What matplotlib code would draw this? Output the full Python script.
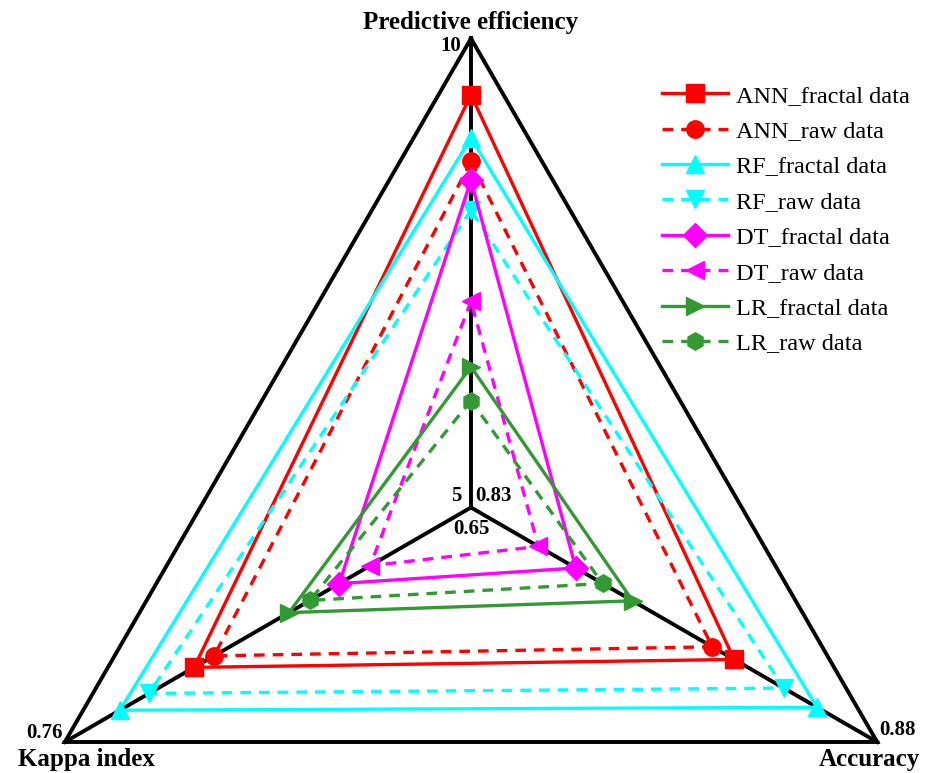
import numpy as np
import matplotlib.pyplot as plt

# axes of the triangle radar: top, bottom-left, bottom-right
axis_names = ['Predictive efficiency', 'Kappa index', 'Accuracy']
axis_min = [5, 0.65, 0.83]
axis_max = [10, 0.76, 0.88]

series = ['ANN_fractal data', 'ANN_raw data', 'RF_fractal data', 'RF_raw data',
          'DT_fractal data', 'DT_raw data', 'LR_fractal data', 'LR_raw data']

predictive = [9.40, 8.69, 8.94, 8.17, 8.49, 7.20, 6.50, 6.14]
kappa = [0.7250, 0.7196, 0.7451, 0.7372, 0.6857, 0.6773, 0.6993, 0.6936]
accuracy = [0.8624, 0.8597, 0.8726, 0.8685, 0.8429, 0.8383, 0.8499, 0.8462]

colors = ['#ff0000', '#ff0000', '#00ffff', '#00ffff',
          '#ff00ff', '#ff00ff', '#339933', '#339933']
markers = ['s', 'o', '^', 'v', 'D', '<', '>', 'h']
styles = ['-', '--', '-', '--', '-', '--', '-', '--']

plt.rcParams['font.family'] = ['Liberation Serif', 'DejaVu Serif']

angles = np.deg2rad([90, 210, 330])


def to_xy(vals):
    frac = [(v - lo) / (hi - lo) for v, lo, hi in zip(vals, axis_min, axis_max)]
    x = np.array(frac) * np.cos(angles)
    y = np.array(frac) * np.sin(angles)
    return x, y


fig = plt.figure(figsize=(9.26, 7.73), dpi=100)
ax = fig.add_axes([0, 0, 1, 1])
ax.set_xlim(-471 / 469, (926 - 471) / 469)
ax.set_ylim(-265.5 / 469, (773 - 265.5) / 469)
ax.axis('off')

# frame and axis lines
vx, vy = np.cos(angles), np.sin(angles)
ax.plot(np.append(vx, vx[0]), np.append(vy, vy[0]), color='black', lw=2.8,
        solid_joinstyle='miter', zorder=1)
for a in angles:
    ax.plot([0, np.cos(a)], [0, np.sin(a)], color='black', lw=2.8, zorder=1)

for i, name in enumerate(series):
    x, y = to_xy([predictive[i], kappa[i], accuracy[i]])
    ax.plot(np.append(x, x[0]), np.append(y, y[0]), color=colors[i],
            linestyle=styles[i], lw=2.4, marker=markers[i], markersize=12.5,
            markevery=[0, 1, 2], label=name, zorder=3,
            dashes=(3.2, 2.4) if styles[i] == '--' else (None, None))

# axis titles
ax.text(0, 1.035, axis_names[0], ha='center', va='center', fontsize=18, fontweight='bold')
ax.text(-0.821, -0.538, axis_names[1], ha='center', va='center', fontsize=18,
        fontweight='bold')
ax.text(0.849, -0.538, axis_names[2], ha='center', va='center', fontsize=18,
        fontweight='bold')

# axis end labels
tk = dict(fontsize=15, fontweight='bold')
ax.text(-0.02, 0.985, '10', ha='right', va='center', **tk)
ax.text(-0.02, 0.025, '5', ha='right', va='center', **tk)
ax.text(0.01, 0.025, '0.83', ha='left', va='center', **tk)
ax.text(0.0, -0.045, '0.65', ha='center', va='center', **tk)
ax.text(vx[1] - 0.005, vy[1] + 0.02, '0.76', ha='right', va='center', **tk)
ax.text(vx[2] + 0.005, vy[2] + 0.025, '0.88', ha='left', va='center', **tk)

ax.legend(loc='upper left', bbox_to_anchor=(0.7044, 0.903), frameon=False, fontsize=17.5,
          handlelength=2.7, handletextpad=0.33, labelspacing=0.55, borderaxespad=0)

fig.savefig('out.png', dpi=100)
